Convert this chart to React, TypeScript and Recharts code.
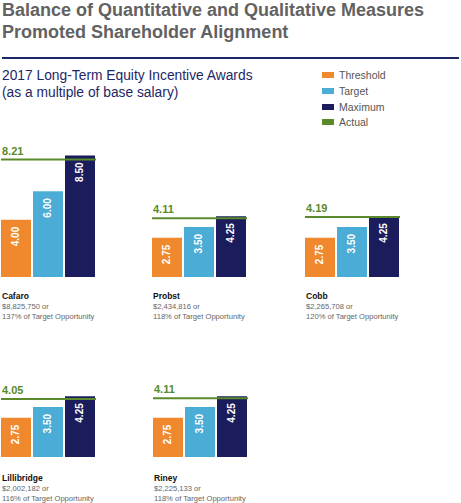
import React from 'react';
import { BarChart, Bar, XAxis, YAxis, ReferenceLine, LabelList } from 'recharts';

const titleLines = ['Balance of Quantitative and Qualitative Measures', 'Promoted Shareholder Alignment'];
const subtitleLines = ['2017 Long-Term Equity Incentive Awards', '(as a multiple of base salary)'];

const names = ['Cafaro', 'Probst', 'Cobb', 'Lillibridge', 'Riney'];
const threshold = [4.0, 2.75, 2.75, 2.75, 2.75];
const target = [6.0, 3.5, 3.5, 3.5, 3.5];
const maximum = [8.5, 4.25, 4.25, 4.25, 4.25];
const actual = [8.21, 4.11, 4.19, 4.05, 4.11];
const payouts = ['$8,825,750 or', '$2,434,816 or', '$2,265,708 or', '$2,002,182 or', '$2,225,133 or'];
const pctOfTarget = ['137% of Target Opportunity', '118% of Target Opportunity', '120% of Target Opportunity', '116% of Target Opportunity', '118% of Target Opportunity'];

const seriesNames = ['Threshold', 'Target', 'Maximum', 'Actual'];
const seriesKeys = ['threshold', 'target', 'maximum'];

const COLORS = ['#F0892D', '#4BACD6', '#1A1C5C', '#5A8A2A'];
const FONT = '"Liberation Sans", Arial, Helvetica, sans-serif';

// layout
const colX = [1, 152, 305, 1, 153];
const baseY = [276.5, 276.5, 276.5, 456.5, 456.5];
const textY = [295.7, 295.7, 295.7, 478, 478];
const CH = 143;
const CW = 95;

const ValueLabel = (props: any) => {
  const { x, y, width, value } = props;
  const cx = Number(x) + Number(width) / 2;
  const ty = Number(y) + 7;
  return (
    <text
      x={cx}
      y={ty}
      transform={`rotate(-90 ${cx} ${ty})`}
      textAnchor="end"
      dominantBaseline="central"
      fill="#ffffff"
      fontSize={10}
      fontWeight="bold"
      fontFamily={FONT}
    >
      {Number(value).toFixed(2)}
    </text>
  );
};

const Panel = ({ i }: { i: number }) => {
  const data = [{ name: names[i], threshold: threshold[i], target: target[i], maximum: maximum[i] }];
  const actualLabel = (p: any) => {
    const vb = p.viewBox || {};
    return (
      <text x={(vb.x ?? 0) + 1} y={(vb.y ?? 0) - 5} fill={COLORS[3]} fontSize={11} fontWeight="bold" fontFamily={FONT}>
        {actual[i].toFixed(2)}
      </text>
    );
  };
  return (
    <div style={{ position: 'absolute', left: colX[i], top: baseY[i] - CH }}>
      <BarChart width={CW} height={CH} data={data} margin={{ top: 0, right: 0, bottom: 0, left: 0 }} barCategoryGap={0} barGap={2}>
        <XAxis dataKey="name" hide />
        <YAxis hide domain={[0, 10]} />
        {seriesKeys.map((k, j) => (
          <Bar key={k} dataKey={k} name={seriesNames[j]} fill={COLORS[j]} isAnimationActive={false}>
            <LabelList dataKey={k} content={ValueLabel} />
          </Bar>
        ))}
        <ReferenceLine y={actual[i]} stroke={COLORS[3]} strokeWidth={2} ifOverflow="extendDomain" label={actualLabel} />
      </BarChart>
    </div>
  );
};

export default function App() {
  return (
    <div style={{ position: 'absolute', left: 0, top: 0, width: 461, height: 503, background: '#fff', fontFamily: FONT, overflow: 'hidden' }}>
      {titleLines.map((t, k) => (
        <div key={k} style={{ position: 'absolute', left: 2, top: k * 21.5 + 10 - 11, height: 22, lineHeight: '22px', fontSize: 18, fontWeight: 'bold', color: '#626262', whiteSpace: 'nowrap' }}>{t}</div>
      ))}
      <div style={{ position: 'absolute', left: 2, top: 57, width: 457, height: 1.5, background: '#1E2766' }} />
      {subtitleLines.map((t, k) => (
        <div key={k} style={{ position: 'absolute', left: 2, top: 75.7 + k * 17.6 - 9, height: 18, lineHeight: '18px', fontSize: 13.8, color: '#1E2766', whiteSpace: 'nowrap' }}>{t}</div>
      ))}
      {seriesNames.map((s, k) => {
        const cy = [75.3, 91, 106.7, 122][k];
        return (
          <React.Fragment key={s}>
            <div style={{ position: 'absolute', left: 322, top: cy - 3, width: 12, height: 6, background: COLORS[k] }} />
            <div style={{ position: 'absolute', left: 339, top: cy - 7, height: 14, lineHeight: '14px', fontSize: 10.5, color: '#555' }}>{s}</div>
          </React.Fragment>
        );
      })}
      {names.map((n, i) => (
        <React.Fragment key={n}>
          <Panel i={i} />
          <div style={{ position: 'absolute', left: colX[i] + 1, top: textY[i] - 6, height: 12, lineHeight: '12px', fontSize: 8.5, fontWeight: 'bold', color: '#111', whiteSpace: 'nowrap' }}>{n}</div>
          <div style={{ position: 'absolute', left: colX[i] + 1, top: textY[i] + 11 - 5, height: 10, lineHeight: '10px', fontSize: 7.6, color: '#666', whiteSpace: 'nowrap' }}>{payouts[i]}</div>
          <div style={{ position: 'absolute', left: colX[i] + 1, top: textY[i] + 21 - 5, height: 10, lineHeight: '10px', fontSize: 7.6, color: '#666', whiteSpace: 'nowrap' }}>{pctOfTarget[i]}</div>
        </React.Fragment>
      ))}
    </div>
  );
}
